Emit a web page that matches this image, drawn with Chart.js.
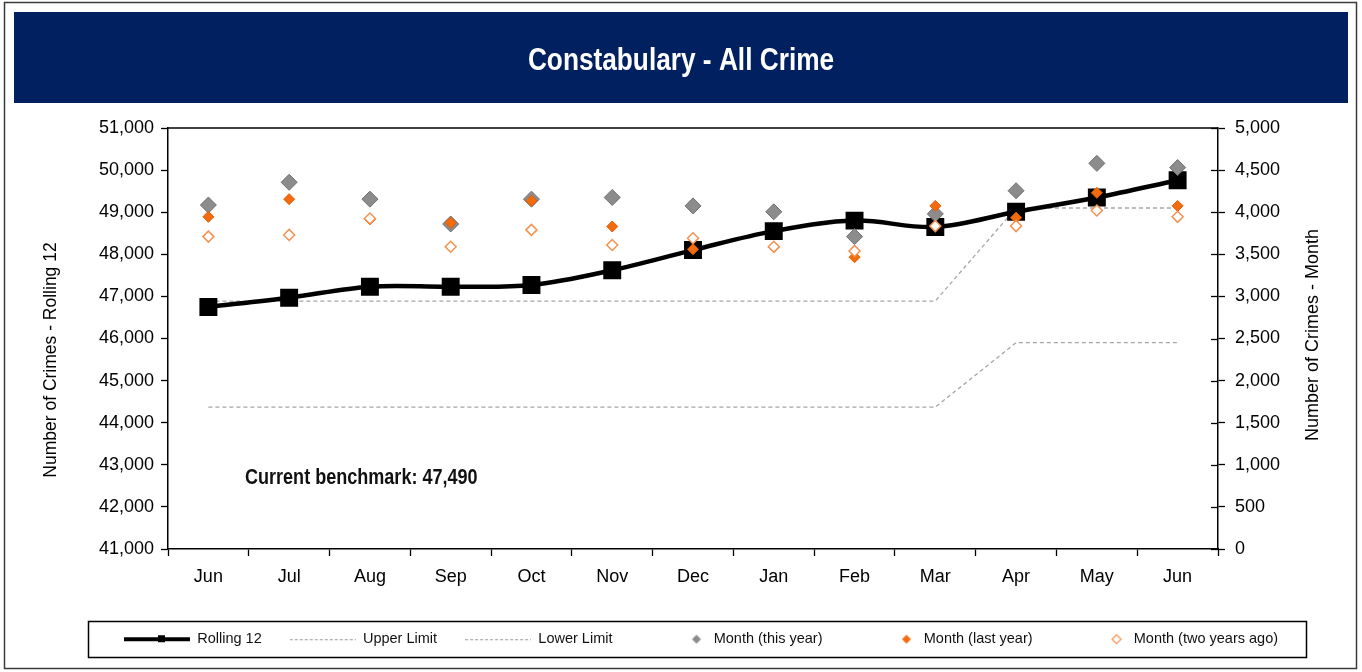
<!DOCTYPE html>
<html>
<head>
<meta charset="utf-8">
<title>Constabulary - All Crime</title>
<script src="https://cdn.jsdelivr.net/npm/chart.js@4.4.0/dist/chart.umd.min.js"></script>
<style>
  html, body { margin: 0; padding: 0; background: #fff; }
  #chart { display: block; }
</style>
</head>
<body>
<canvas id="chart" width="1362" height="672" style="width:1362px;height:672px"></canvas>
<script>
// categories + series
const months = ['Jun', 'Jul', 'Aug', 'Sep', 'Oct', 'Nov', 'Dec', 'Jan', 'Feb', 'Mar', 'Apr', 'May', 'Jun'];
const rolling12 = [46750, 46970, 47230, 47230, 47270, 47620, 48100, 48550, 48800, 48650, 49010, 49350, 49760];
const upperLimit = [46890, 46890, 46890, 46890, 46890, 46890, 46890, 46890, 46890, 46890, 49100, 49100, 49100];
const lowerLimit = [44370, 44370, 44370, 44370, 44370, 44370, 44370, 44370, 44370, 44370, 45900, 45900, 45900];
const monthThisYear = [4085, 4355, 4155, 3860, 4155, 4175, 4075, 4005, 3710, 3980, 4255, 4580, 4530];
const monthLastYear = [3945, 4155, 3915, 3875, 4135, 3830, 3560, 3585, 3465, 4075, 3935, 4230, 4075];
const monthTwoYearsAgo = [3710, 3730, 3925, 3590, 3790, 3610, 3690, 3590, 3540, 3835, 3835, 4020, 3945];
const benchmarkText = 'Current benchmark: 47,490';

const SANS = '"Liberation Sans", Arial, sans-serif';
const LEGEND_PAD = 28;
const LEGEND_FONT = 14.5;

// no narrow font installed, so squeeze the bold text sideways
function narrowText(ctx, text, x, y, font, squeeze, align) {
  ctx.save();
  ctx.font = font;
  ctx.textAlign = align;
  ctx.translate(x, y);
  ctx.scale(squeeze, 1);
  ctx.fillText(text, 0, 0);
  ctx.restore();
}

// little pictures for the legend entries
function legendSample(kind) {
  const c = document.createElement('canvas');
  c.width = 66; c.height = 16;
  const g = c.getContext('2d');
  if (kind === 'rolling') {
    g.strokeStyle = '#000';
    g.lineWidth = 4;
    g.beginPath(); g.moveTo(0, 8); g.lineTo(66, 8); g.stroke();
    g.fillStyle = '#000';
    g.fillRect(34, 4, 7, 7);
  } else if (kind === 'limit') {
    g.strokeStyle = '#9a9a9a';
    g.lineWidth = 1;
    g.setLineDash([3, 2]);
    g.beginPath(); g.moveTo(0, 8.5); g.lineTo(66, 8.5); g.stroke();
  } else {
    const cx = 56, cy = 8, r = 4.5;
    g.beginPath();
    g.moveTo(cx - r, cy); g.lineTo(cx, cy - r); g.lineTo(cx + r, cy); g.lineTo(cx, cy + r); g.closePath();
    if (kind === 'grey') { g.fillStyle = '#8c8c8c'; g.fill(); }
    else if (kind === 'orange') { g.fillStyle = '#f26b0f'; g.fill(); }
    else { g.fillStyle = '#fff'; g.fill(); g.strokeStyle = '#f4914f'; g.lineWidth = 1.2; g.stroke(); }
  }
  return c;
}
const samples = [legendSample('rolling'), legendSample('limit'), legendSample('limit'),
                 legendSample('grey'), legendSample('orange'), legendSample('hollow')];

const framePlugin = {
  id: 'frame',
  beforeDraw(chart) {
    const ctx = chart.ctx;
    ctx.save();
    ctx.fillStyle = '#fff';
    ctx.fillRect(0, 0, chart.width, chart.height);
    // outer border
    ctx.strokeStyle = '#3a3a3a';
    ctx.lineWidth = 1.5;
    ctx.strokeRect(4.5, 2.5, 1352, 666);
    // title banner
    ctx.fillStyle = '#002060';
    ctx.fillRect(14, 12, 1334, 91);
    ctx.fillStyle = '#fff';
    ctx.textBaseline = 'alphabetic';
    narrowText(ctx, 'Constabulary - All Crime', 681, 70, 'bold 32px ' + SANS, 0.82, 'center');
    ctx.restore();
  },
  afterDraw(chart) {
    const ctx = chart.ctx;
    const area = chart.chartArea;
    ctx.save();
    // top edge of plot area
    ctx.strokeStyle = '#000';
    ctx.lineWidth = 1.5;
    ctx.beginPath(); ctx.moveTo(area.left, area.top); ctx.lineTo(area.right, area.top); ctx.stroke();
    // right axis ticks cross the axis line
    const y1 = chart.scales.y1;
    ctx.lineWidth = 1.3;
    y1.ticks.forEach(t => {
      const py = Math.round(y1.getPixelForValue(t.value)) + 0.5;
      ctx.beginPath(); ctx.moveTo(area.right - 7, py); ctx.lineTo(area.right, py); ctx.stroke();
    });
    // axis titles
    ctx.fillStyle = '#000';
    ctx.textAlign = 'center';
    ctx.textBaseline = 'middle';
    ctx.font = '17.5px ' + SANS;
    ctx.save();
    ctx.translate(51, 360); ctx.rotate(-Math.PI / 2);
    ctx.fillText('Number of Crimes - Rolling 12', 0, 0);
    ctx.restore();
    ctx.font = '18px ' + SANS;
    ctx.save();
    ctx.translate(1313, 335); ctx.rotate(-Math.PI / 2);
    ctx.fillText('Number of Crimes - Month', 0, 0);
    ctx.restore();
    // benchmark note
    ctx.fillStyle = '#111';
    ctx.textBaseline = 'alphabetic';
    narrowText(ctx, benchmarkText, area.left + 77, 484, 'bold 22px ' + SANS, 0.82, 'left');
    // box round the legend
    const boxes = chart.legend.legendHitBoxes;
    if (boxes && boxes.length) {
      const first = boxes[0], last = boxes[boxes.length - 1];
      const left = first.left - 36, right = last.left + last.width + 28;
      const mid = chart.legend.top + LEGEND_PAD + LEGEND_FONT / 2;
      ctx.strokeStyle = '#000';
      ctx.lineWidth = 1.5;
      ctx.strokeRect(Math.round(left) + 0.5, Math.round(mid - 18) + 0.5, Math.round(right - left), 36);
    }
    ctx.restore();
  }
};

const pointDiamond = (fill, border, radius, width) => ({
  type: 'line', showLine: false, yAxisID: 'y1',
  pointStyle: 'rectRot', pointRadius: radius, pointHoverRadius: radius,
  pointBackgroundColor: fill, pointBorderColor: border, pointBorderWidth: width,
  backgroundColor: fill, borderColor: border
});

new Chart(document.getElementById('chart'), {
  data: {
    labels: months,
    datasets: [
      {
        type: 'line', label: 'Rolling 12', data: rolling12, yAxisID: 'y', order: 5,
        borderColor: '#000', backgroundColor: '#000', borderWidth: 4.5, tension: 0.35,
        pointStyle: 'rect', pointRadius: 9.5, pointHoverRadius: 9.5,
        pointBackgroundColor: '#000', pointBorderColor: '#000'
      },
      {
        type: 'line', label: 'Upper Limit', data: upperLimit, yAxisID: 'y', order: 6,
        borderColor: '#a6a6a6', borderWidth: 1.3, borderDash: [4, 3], pointRadius: 0, tension: 0
      },
      {
        type: 'line', label: 'Lower Limit', data: lowerLimit, yAxisID: 'y', order: 7,
        borderColor: '#a6a6a6', borderWidth: 1.3, borderDash: [4, 3], pointRadius: 0, tension: 0
      },
      Object.assign({ label: 'Month (this year)', data: monthThisYear, order: 3 },
        pointDiamond('#8c8c8c', '#6f6f6f', 8, 1)),
      Object.assign({ label: 'Month (last year)', data: monthLastYear, order: 2 },
        pointDiamond('#f26b0f', '#e35f05', 5.5, 1)),
      Object.assign({ label: 'Month (two years ago)', data: monthTwoYearsAgo, order: 1 },
        pointDiamond('#ffffff', '#f4914f', 5.5, 1.5))
    ]
  },
  options: {
    responsive: false,
    animation: false,
    devicePixelRatio: 1,
    layout: { padding: { top: 128, left: 40, right: 0, bottom: 15.5 } },
    scales: {
      x: {
        type: 'category', offset: true,
        afterFit: s => { s.height = 55; },
        grid: { drawOnChartArea: false, drawTicks: true, tickLength: 7, color: '#000', tickWidth: 1.3, offset: true },
        border: { display: true, color: '#000', width: 1.5 },
        ticks: { color: '#000', padding: 10, font: { family: SANS, size: 18 } }
      },
      y: {
        position: 'left', min: 41000, max: 51000,
        afterFit: s => { s.width = 128; },
        grid: { drawOnChartArea: false, drawTicks: true, tickLength: 7, color: '#000', tickWidth: 1.3 },
        border: { display: true, color: '#000', width: 1.5 },
        ticks: { stepSize: 1000, color: '#000', padding: 7, font: { family: SANS, size: 18 },
          callback: v => v.toLocaleString('en-GB') }
      },
      y1: {
        position: 'right', min: 0, max: 5000,
        afterFit: s => { s.width = 144; },
        grid: { drawOnChartArea: false, drawTicks: true, tickLength: 7, color: '#000', tickWidth: 1.3 },
        border: { display: true, color: '#000', width: 1.5 },
        ticks: { stepSize: 500, color: '#000', padding: 10, font: { family: SANS, size: 18 },
          callback: v => v.toLocaleString('en-GB') }
      }
    },
    plugins: {
      title: { display: false },
      legend: {
        position: 'bottom',
        labels: {
          usePointStyle: true,
          pointStyleWidth: 66,
          padding: LEGEND_PAD,
          color: '#111',
          font: { family: SANS, size: LEGEND_FONT },
          generateLabels: chart => chart.data.datasets.map((ds, i) => ({
            text: ds.label,
            pointStyle: samples[i],
            datasetIndex: i,
            hidden: !chart.isDatasetVisible(i),
            fontColor: '#111',
            fillStyle: 'transparent',
            strokeStyle: 'transparent',
            lineWidth: 0
          }))
        }
      }
    }
  },
  plugins: [framePlugin]
});
</script>
</body>
</html>
